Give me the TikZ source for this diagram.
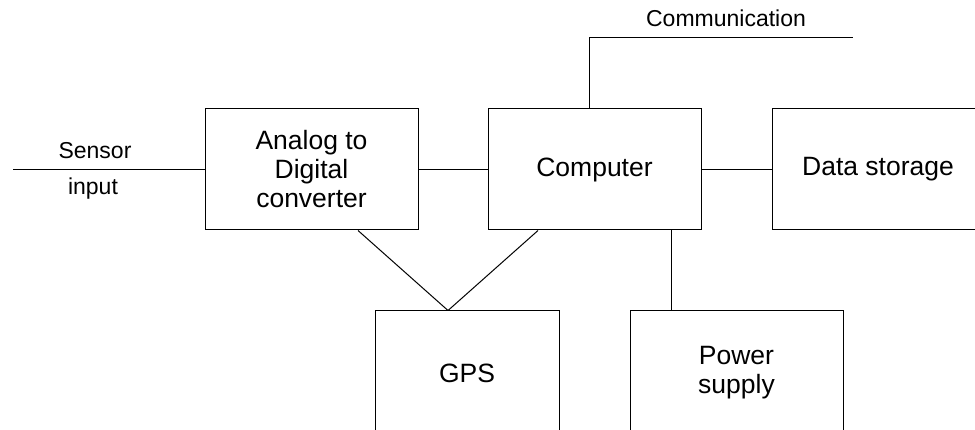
\documentclass[tikz,border=0pt]{standalone}
\usepackage{fontspec}
\setmainfont{Liberation Sans}
\tikzset{
  unit/.style={draw, line width=1pt, align=center, inner sep=0pt,
    font=\fontsize{26.5}{29}\selectfont},
  wire/.style={line width=1pt},
  tag/.style={font=\fontsize{23}{26}\selectfont, inner sep=0pt}
}
\begin{document}
\begin{tikzpicture}[x=1pt, y=-1pt]
        % Frame of the picture (boxes run off its edges)
        \clip (0,0) rectangle (975,430);

        % Draw the units of the logger
        \node[unit, minimum width=213, minimum height=121] (adc) at (311.5,169.5) {Analog to\\Digital\\converter};
        \node[unit, minimum width=213, minimum height=121] (comp) at (594.5,169.5) {Computer};
        \node[unit, minimum width=212, minimum height=121] (store) at (878,169.5) {Data storage};
        \node[unit, minimum width=184, minimum height=124] (gps) at (467,373) {GPS};
        \node[unit, minimum width=213, minimum height=124] (power) at (736.5,373) {Power\\supply};

        % Sensor input line
        \coordinate (sensor) at (13,169.5);
        \draw[wire] (sensor) -- (adc.west);
        \node[tag] (sensortop) at (95,151) {Sensor};
        \node[tag] (sensorbot) at (93,189) {input};

        % Links between the units
        \draw[wire] (adc.east) -- (comp.west);
        \draw[wire] (comp.east) -- (store.west);
        \draw[wire] ([xshift=46.5]adc.south) -- ([xshift=-19]gps.north);
        \draw[wire] ([xshift=-56.5]comp.south) -- ([xshift=-19]gps.north);
        \draw[wire] ([xshift=76.5]comp.south) -- ([xshift=-65.5]power.north);

        % Communication line out of the computer
        \coordinate (commcorner) at (589,38);
        \coordinate (commend) at (853,38);
        \draw[wire] (comp.north -| commcorner) -- (commcorner) -- (commend);
        \node[tag] (commtext) at (726,18) {Communication};
\end{tikzpicture}
\end{document}
